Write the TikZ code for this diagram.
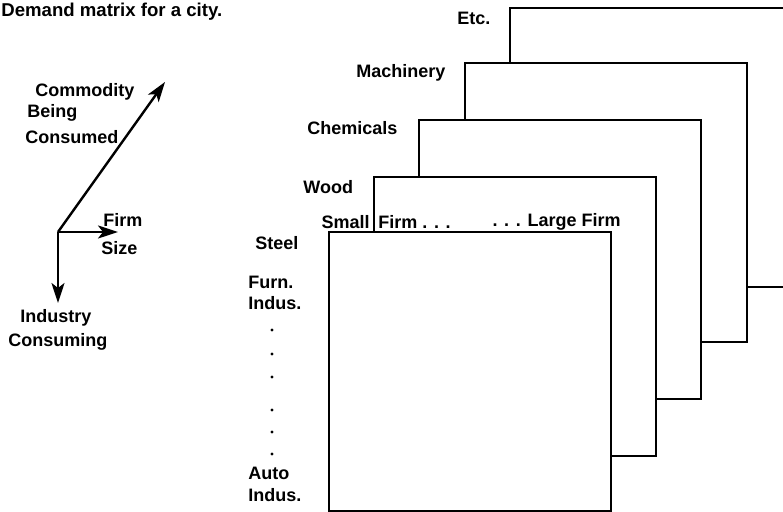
\documentclass[tikz,border=0pt]{standalone}
\usepackage{fontspec}
\setmainfont{Liberation Sans}
\usetikzlibrary{arrows.meta}

\begin{document}
\begin{tikzpicture}[x=0.5pt, y=-0.5pt,
        hoja/.style={rectangle, draw, fill=white, line width=1.2pt, minimum width=141pt, minimum height=139.5pt, anchor=north west, inner sep=0pt, outer sep=0pt},
        rot/.style={font=\fontsize{9}{11}\selectfont\bfseries, inner sep=0pt, anchor=west},
        eje/.style={-{Stealth[length=10pt, width=6.5pt, inset=2.5pt]}, line width=1.2pt}]
        \clip (0,0) rectangle (783,512);
        \node[rot, font=\fontsize{9.3}{11}\selectfont\bfseries] (tit) at (1,12) {Demand matrix for a city.};
        % axes
        \coordinate (o) at (58,232);
        \coordinate (com) at (165,82);
        \coordinate (siz) at (118,232);
        \coordinate (ind) at (58,303);
        \draw[eje] (o) -- (com);
        \draw[eje] (o) -- (siz);
        \draw[eje] (o) -- (ind);
        \node[rot] (com1) at (35,92) {Commodity};
        \node[rot] (com2) at (27,113) {Being};
        \node[rot] (com3) at (25,137) {Consumed};
        \node[rot] (siz1) at (103,220) {Firm};
        \node[rot] (siz2) at (101,248) {Size};
        \node[rot] (ind1) at (20,318) {Industry};
        \node[rot] (ind2) at (8,342) {Consuming};
        % sheets, back to front
        \node[hoja] (etc) at (510,8) {};
        \node[hoja] (mac) at (465,63) {};
        \node[hoja] (che) at (419,120) {};
        \node[hoja] (woo) at (374,177) {};
        \node[hoja] (ste) at (329,232) {};
        \node[rot] (etcl) at (457,18) {Etc.};
        \node[rot] (macl) at (356,73) {Machinery};
        \node[rot] (chel) at (307,128) {Chemicals};
        \node[rot] (wool) at (303,187) {Wood};
        % firm size across, industries down
        \node[rot, anchor=east] (sma) at (370,222) {Small};
        \node[rot] (sma2) at (378,222) {Firm . . .};
        \node[rot, anchor=east] (lar) at (621,222) {. . . Large Firm};
        \node[rot] (stel) at (255,243) {Steel};
        \node[rot] (fur1) at (248,282) {Furn.};
        \node[rot] (fur2) at (248,303) {Indus.};
        \foreach \y in {330,354,377,410,432,454}
            \fill (272,\y) circle (0.8pt);
        \node[rot] (aut1) at (248,473) {Auto};
        \node[rot] (aut2) at (248,495) {Indus.};
\end{tikzpicture}
\end{document}
